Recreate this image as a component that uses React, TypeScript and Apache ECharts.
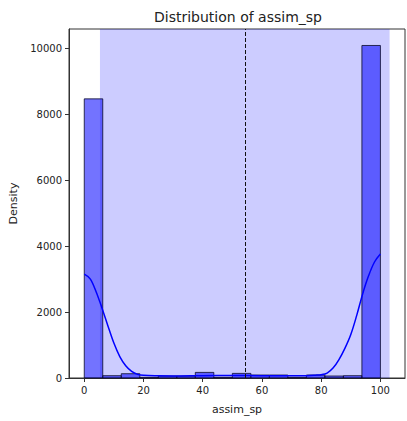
import React, { useEffect, useRef } from "react";
import * as echarts from "echarts";

// Histogram bin edges and counts
const binEdges = [0, 6.25, 12.5, 18.75, 25, 31.25, 37.5, 43.75, 50, 56.25, 62.5, 68.75, 75, 81.25, 87.5, 93.75, 100];
const binCounts = [8470, 70, 130, 20, 60, 60, 170, 20, 140, 90, 90, 20, 90, 60, 70, 10090];

// Kernel density estimate curve (scaled to counts)
const kdeX = [0, 2, 4, 6, 8, 10, 12, 14, 16, 18, 20, 25, 30, 40, 50, 60, 70, 75, 78, 80, 82, 84, 86, 88, 90, 92, 94, 96, 98, 100];
const kdeY = [3150, 3010, 2620, 2120, 1580, 1060, 650, 370, 200, 110, 80, 65, 60, 70, 75, 70, 65, 70, 85, 100, 150, 300, 560, 900, 1320, 1900, 2550, 3100, 3520, 3760];

// Summary statistics
const meanValue = 54.2;
const stdValue = 48.9;

// Tick labels
const xTicks = [0, 20, 40, 60, 80, 100];
const yTicks = [0, 2000, 4000, 6000, 8000, 10000];

const FONT = "DejaVu Sans";

export default function App() {
  const ref = useRef<HTMLDivElement>(null);

  useEffect(() => {
    if (!ref.current) return;
    const chart = echarts.init(ref.current, null, { renderer: "svg" });

    const histData = binCounts.map((c, i) => [binEdges[i], binEdges[i + 1], c]);
    const kdeData = kdeX.map((x, i) => [x, kdeY[i]]);

    chart.setOption({
      animation: false,
      backgroundColor: "#ffffff",
      title: {
        text: "Distribution of assim_sp",
        left: 149,
        top: 5,
        textStyle: { fontFamily: FONT, fontSize: 14, fontWeight: "normal", color: "#222" },
      },
      grid: {
        left: 69,
        right: 2,
        top: 29,
        bottom: 43,
        containLabel: false,
        outerBoundsMode: "none",
        show: true,
        borderColor: "#333",
        borderWidth: 1,
        backgroundColor: "transparent",
      },
      xAxis: {
        type: "value",
        min: -5.15,
        max: 108.3,
        name: "assim_sp",
        nameLocation: "middle",
        nameGap: 26,
        nameTextStyle: { fontFamily: FONT, fontSize: 11, color: "#222" },
        splitLine: { show: false },
        axisLine: { show: true, onZero: false, lineStyle: { color: "#333", width: 1 } },
        axisTick: { show: true, length: 4, customValues: xTicks, lineStyle: { color: "#333" } },
        axisLabel: {
          customValues: xTicks,
          fontFamily: FONT,
          fontSize: 10,
          color: "#222",
          margin: 7,
          formatter: (v: number) => String(v),
        },
      },
      yAxis: {
        type: "value",
        min: 0,
        max: 10590,
        name: "Density",
        nameLocation: "middle",
        nameGap: 48,
        nameTextStyle: { fontFamily: FONT, fontSize: 11, color: "#222" },
        splitLine: { show: false },
        axisLine: { show: true, onZero: false, lineStyle: { color: "#333", width: 1 } },
        axisTick: { show: true, length: 4, customValues: yTicks, lineStyle: { color: "#333" } },
        axisLabel: {
          customValues: yTicks,
          fontFamily: FONT,
          fontSize: 10,
          color: "#222",
          margin: 7,
          formatter: (v: number) => String(v),
        },
      },
      series: [
        {
          // mean ± std band
          type: "line",
          data: [],
          z: 1,
          silent: true,
          markArea: {
            silent: true,
            itemStyle: { color: "rgba(0,0,255,0.2)" },
            data: [[{ xAxis: meanValue - stdValue }, { xAxis: meanValue + stdValue }]],
          },
        },
        {
          type: "custom",
          z: 2,
          data: histData,
          encode: { x: [0, 1], y: 2 },
          renderItem: (params: any, api: any) => {
            const x0 = api.value(0);
            const x1 = api.value(1);
            const h = api.value(2);
            const p0 = api.coord([x0, h]);
            const p1 = api.coord([x1, 0]);
            return {
              type: "rect",
              shape: { x: p0[0], y: p0[1], width: p1[0] - p0[0], height: p1[1] - p0[1] },
              style: { fill: "rgba(0,0,255,0.55)", stroke: "rgba(10,10,40,0.8)", lineWidth: 1 },
            };
          },
        },
        {
          type: "line",
          z: 3,
          data: kdeData,
          smooth: 0.35,
          showSymbol: false,
          lineStyle: { color: "#0000ff", width: 1.5 },
          markLine: {
            silent: true,
            symbol: "none",
            label: { show: false },
            lineStyle: { color: "#111", type: [4, 2], width: 1 },
            data: [{ xAxis: meanValue }],
          },
        },
      ],
    });

    return () => chart.dispose();
  }, []);

  return (
    <div
      ref={ref}
      style={{ position: "fixed", left: 0, top: 0, width: 407, height: 421 }}
    />
  );
}
